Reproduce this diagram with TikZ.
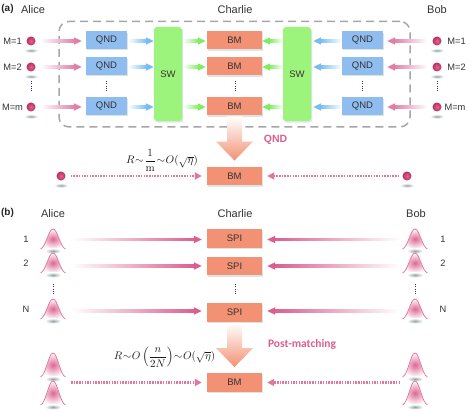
\documentclass[tikz,border=0pt]{standalone}
\usepackage[no-math]{fontspec}
\usepackage{amsmath}
\setmainfont{Liberation Sans}
\newfontfamily\carl{Carlito}
\usetikzlibrary{shadows,calc,arrows.meta}
\definecolor{qndc}{HTML}{90BDF0}
\definecolor{swc}{HTML}{9CF47C}
\definecolor{bmc}{HTML}{F39174}
\definecolor{pinkc}{HTML}{E07FA8}
\definecolor{darkpink}{HTML}{DB5F8E}
\definecolor{bluea}{HTML}{78BDF2}
\definecolor{greena}{HTML}{80EC60}
\definecolor{txt}{HTML}{333333}
\definecolor{shc}{HTML}{8FA6A6}
\definecolor{ballin}{HTML}{E8608C}
\definecolor{ballout}{HTML}{B83060}
\tikzset{
  boxbase/.style={rectangle,inner sep=0pt,text=txt,font=\fontsize{9.5}{10}\selectfont,
    drop shadow={shadow xshift=1.2pt,shadow yshift=-1.6pt,opacity=.3,fill=shc}},
  qnd/.style={boxbase,fill=qndc,minimum width=41pt,minimum height=17.5pt},
  bmb/.style={boxbase,fill=bmc,minimum width=55pt,minimum height=18.5pt},
  swb/.style={boxbase,fill=swc,minimum width=28pt,minimum height=94pt,rounded corners=3pt},
  lab/.style={text=txt,font=\fontsize{9.3}{10}\selectfont,inner sep=0pt},
  head/.style={text=txt,font=\fontsize{11}{12}\selectfont,inner sep=0pt},
  tag/.style={text=black!85,font=\bfseries\fontsize{10}{11}\selectfont,inner sep=0pt},
  ballb/.style={circle,inner sep=0pt,minimum size=9pt,inner color=ballin,outer color=ballout},
  conn/.style={-{Triangle[length=8pt,width=7pt]},line width=2.4pt,draw=#1},
  dotconn/.style={-{Triangle[length=7pt,width=7pt]},line width=2.3pt,draw=darkpink!85,
    dash pattern=on 1.5pt off 1.2pt},
  vdot/.style={draw=black!40!blue!70!gray,line width=1pt,dash pattern=on 1pt off 1.3pt},
}
\newcommand\garrowR[5]{%
  \draw[conn=#3,shorten <=#4pt,shorten >=#5pt] (#1) -- (#2);
  \shade[left color=white,right color=#3] ($(#1)+(#4,-1.4)$) rectangle ($(#2)+(-#5-7,1.4)$);}
\newcommand\garrowL[5]{%
  \draw[conn=#3,shorten <=#4pt,shorten >=#5pt] (#1) -- (#2);
  \shade[left color=#3,right color=white] ($(#2)+(#5+7,-1.4)$) rectangle ($(#1)+(-#4,1.4)$);}
\newcommand\ball[3]{%
  \shade[inner color=shc,outer color=white] (#2,#3+9.5) ellipse (7 and 2.2);
  \node[ballb] (#1) at (#2,#3) {};}
\newcommand\gauss[4]{%
  \shade[inner color=shc,outer color=white] (#2,#3+#4+2) ellipse (8 and 2.6);
  \shade[inner color=darkpink!95,outer color=white]
    (#2-12.5,#3+#4) .. controls (#2-7,#3+#4-2) and (#2-4.5,#3) .. (#2,#3)
    .. controls (#2+4.5,#3) and (#2+7,#3+#4-2) .. (#2+12.5,#3+#4)
    .. controls (#2+5,#3+#4-1.5) and (#2-5,#3+#4-1.5) .. cycle;
  \draw[draw=pinkc!90!red,line width=.7pt]
    (#2-12.5,#3+#4) .. controls (#2-7,#3+#4-2) and (#2-4.5,#3) .. (#2,#3)
    .. controls (#2+4.5,#3) and (#2+7,#3+#4-2) .. (#2+12.5,#3+#4);
  \coordinate (#1) at (#2,#3+#4-9);}
\newcommand\bigarrow[2]{%
  \shade[top color=white,bottom color=bmc]
    ($(#1)+(-7.5,1)$) -- ($(#1)+(7.5,1)$) -- ($(#2)+(7.5,-25)$) -- ($(#2)+(18.5,-25)$)
    -- ($(#2)+(0,-6)$) -- ($(#2)+(-18.5,-25)$) -- ($(#2)+(-7.5,-25)$) -- cycle;}
\newcommand\tsim{\mkern-4mu\sim\mkern-4mu}
\begin{document}
\begin{tikzpicture}[x=1pt,y=-1pt]
\useasboundingbox (0,0) rectangle (469,412);
\node[tag] at (7.5,8.5) {(a)};
\node[head] at (33,9.5) {Alice};
\node[head] at (235,9.5) {Charlie};
\node[head] at (437,9.5) {Bob};
\node[draw=black!35,line width=1.5pt,dash pattern=on 8pt off 5pt,rounded corners=10pt,
  minimum width=351pt,minimum height=105.5pt,inner sep=0pt] (frame) at (234.5,74.2) {};
\foreach \n/\y/\t in {1/41/M=1,2/67/M=2,3/107/M=m}{
  \ball{la\n}{31}{\y}
  \ball{ra\n}{437}{\y}
  \node[qnd] (ql\n) at (106.5,\y-1) {QND};
  \node[qnd] (qr\n) at (362.5,\y-1) {QND};
  \node[bmb] (bm\n) at (234.5,\y-1) {BM};
  \node[lab] at (12.5,\y) {\t};
}
\node[lab] at (456.5,41.5) {M=1};
\node[lab] at (456.5,67.5) {M=2};
\node[lab] at (455,107) {M=m};
\node[swb] (swl) at (168,74) {SW};
\node[swb] (swr) at (297,74) {SW};
\foreach \n/\y in {1/41,2/67,3/107}{
  \coordinate (swlp\n) at (swl.east|-0,\y);
  \coordinate (swrp\n) at (swr.west|-0,\y);
  \coordinate (swli\n) at (swl.west|-0,\y);
  \coordinate (swri\n) at (swr.east|-0,\y);
  \coordinate (qle\n) at (ql\n.east|-0,\y);
  \coordinate (qre\n) at (qr\n.west|-0,\y);
  \coordinate (qlw\n) at (ql\n.west|-0,\y);
  \coordinate (qrw\n) at (qr\n.east|-0,\y);
  \coordinate (bml\n) at (bm\n.west|-0,\y);
  \coordinate (bmr\n) at (bm\n.east|-0,\y);
  \garrowR{la\n.east}{qlw\n}{pinkc}{5}{4}
  \garrowL{ra\n.west}{qrw\n}{pinkc}{5}{4}
  \garrowR{qle\n}{swli\n}{bluea}{1}{0}
  \garrowL{qre\n}{swri\n}{bluea}{0}{2}
  \garrowR{swlp\n}{bml\n}{greena}{1}{1}
  \garrowL{swrp\n}{bmr\n}{greena}{0}{0}
}
\foreach \x in {31,106.5,235,362.5,437}{\draw[vdot] (\x,81) -- (\x,92);}
\node[bmb] (bmq) at (234.5,176) {BM};
\bigarrow{bm3.south}{bmq.north}
\ball{qa}{61}{176}
\ball{qb}{407}{176}
\draw[dotconn,shorten <=5pt,shorten >=5pt] (qa.east) -- (bmq.west);
\draw[dotconn,shorten <=3pt,shorten >=5pt] (qb.west) -- (bmq.east);
\node[inner sep=0pt,text=black!90] at (162,160.5) {\fontsize{11}{13}\selectfont $R\tsim\dfrac{1}{\mathrm{m}}\tsim O(\sqrt{\eta})$};
\node[inner sep=0pt,text=darkpink,font=\bfseries\fontsize{10.5}{11}\selectfont] at (275.5,140) {QND};
\node[tag] at (7.5,213) {(b)};
\node[head] at (53,214) {Alice};
\node[head] at (235,214) {Charlie};
\node[head] at (416,214) {Bob};
\foreach \n/\p/\t in {1/229/1,2/253/2,3/299/N}{
  \gauss{ga\n}{53}{\p}{20}
  \gauss{gb\n}{415}{\p}{20}
  \node[lab] at (26,\p+10) {\t};
  \node[lab] at (443,\p+10) {\t};
}
\foreach \n/\y in {1/238.5,2/266,3/312.5}{
  \node[bmb] (sp\n) at (234.5,\y) {SPI};
}
\coordinate (ga1p) at (53,239.5); \coordinate (gb1p) at (415,239.5);
\coordinate (sp1l) at (sp1.west|-ga1p); \coordinate (sp1r) at (sp1.east|-ga1p);
\coordinate (ga2p) at (53,266); \coordinate (gb2p) at (415,266);
\coordinate (ga3p) at (53,311); \coordinate (gb3p) at (415,311);
\coordinate (sp3l) at (sp3.west|-ga3p); \coordinate (sp3r) at (sp3.east|-ga3p);
\garrowR{ga1p}{sp1l}{darkpink}{18}{5}
\garrowL{gb1p}{sp1r}{darkpink}{15}{5}
\garrowR{ga2p}{sp2.west}{darkpink}{18}{5}
\garrowL{gb2p}{sp2.east}{darkpink}{15}{5}
\garrowR{ga3p}{sp3l}{darkpink}{18}{5}
\garrowL{gb3p}{sp3r}{darkpink}{15}{5}
\foreach \x in {53,235,415}{\draw[vdot] (\x,284) -- (\x,295);}
\node[bmb] (bmp) at (234.5,382.5) {BM};
\bigarrow{sp3.south}{bmp.north}
\gauss{gc1}{53}{353}{24}
\gauss{gc2}{53}{381}{24}
\gauss{gd1}{415}{353}{24}
\gauss{gd2}{415}{381}{24}
\coordinate (gcm) at (53,382.5); \coordinate (gdm) at (415,382.5);
\draw[dotconn,shorten <=18pt,shorten >=5pt] (gcm) -- (bmp.west);
\draw[dotconn,shorten <=15pt,shorten >=5pt] (gdm) -- (bmp.east);
\node[inner sep=0pt,text=black!90] at (164.5,357) {\fontsize{11}{13}\selectfont $R\tsim O\left(\dfrac{n}{2N}\right)\tsim O(\sqrt{\eta})$};
\node[inner sep=0pt,text=darkpink,font=\carl\bfseries\fontsize{11.5}{12}\selectfont] at (302,344) {Post-matching};
\end{tikzpicture}
\end{document}
